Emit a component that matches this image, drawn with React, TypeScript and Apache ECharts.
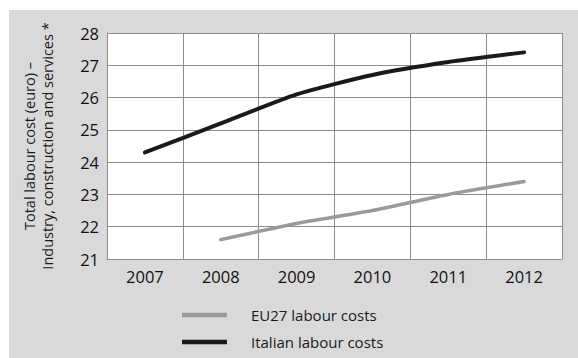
import React, { useEffect, useRef } from "react";
import * as echarts from "echarts";

const years = ["2007", "2008", "2009", "2010", "2011", "2012"];
const italianCosts = [24.3, 25.2, 26.1, 26.7, 27.1, 27.4];
const eu27Costs = [null, 21.6, 22.1, 22.5, 23.0, 23.4];
const seriesNames = ["EU27 labour costs", "Italian labour costs"];
const yAxisTitle = "Total labour cost (euro) –\nIndustry, construction and services *";

const FONT = "'Open Sans', 'Noto Sans', sans-serif";

export default function App() {
  const ref = useRef<HTMLDivElement>(null);

  useEffect(() => {
    if (!ref.current) return;
    const chart = echarts.init(ref.current, null, { renderer: "svg" });
    chart.setOption({
      animation: false,
      backgroundColor: "#ffffff",
      textStyle: { fontFamily: FONT },
      graphic: [
        {
          type: "rect",
          z: -10,
          shape: { x: 9, y: 10, width: 569, height: 348 },
          style: { fill: "#d9d9d9" },
          silent: true,
        },
      ],
      grid: { left: 107, top: 33, width: 455, height: 226, backgroundColor: "#ffffff", show: true, borderWidth: 0 },
      legend: {
        orient: "vertical",
        left: 182,
        top: 305,
        padding: 0,
        itemWidth: 45,
        itemHeight: 4.5,
        itemGap: 7,
        icon: "rect",
        textStyle: { fontFamily: FONT, fontSize: 15, color: "#1a1a1a", padding: [0, 0, 0, 19], lineHeight: 20 },
        data: seriesNames,
      },
      xAxis: {
        type: "category",
        data: years,
        boundaryGap: true,
        axisLine: { show: true, lineStyle: { color: "#8c8c8c", width: 1 } },
        axisTick: { show: false },
        axisLabel: { fontFamily: FONT, fontSize: 16.5, color: "#111111", margin: 9 },
        splitLine: { show: true, lineStyle: { color: "#8c8c8c", width: 1 } },
      },
      yAxis: {
        type: "value",
        min: 21,
        max: 28,
        interval: 1,
        name: yAxisTitle,
        nameLocation: "middle",
        nameRotate: 90,
        nameGap: 51,
        nameTextStyle: { fontFamily: FONT, fontSize: 14.5, color: "#1a1a1a", lineHeight: 18 },
        axisLine: { show: true, lineStyle: { color: "#8c8c8c", width: 1 } },
        axisTick: { show: false },
        axisLabel: { fontFamily: FONT, fontSize: 16.5, color: "#111111", margin: 8 },
        splitLine: { show: true, lineStyle: { color: "#8c8c8c", width: 1 } },
      },
      series: [
        {
          name: seriesNames[0],
          type: "line",
          data: eu27Costs,
          smooth: 0.2,
          showSymbol: false,
          symbol: "none",
          lineStyle: { color: "#9a9a9a", width: 3.5, cap: "round" },
          itemStyle: { color: "#9a9a9a" },
        },
        {
          name: seriesNames[1],
          type: "line",
          data: italianCosts,
          smooth: 0.2,
          showSymbol: false,
          symbol: "none",
          lineStyle: { color: "#1a1a1a", width: 4, cap: "round" },
          itemStyle: { color: "#1a1a1a" },
        },
      ],
    });
    return () => chart.dispose();
  }, []);

  return (
    <div
      ref={ref}
      style={{ position: "absolute", left: 0, top: 0, width: 578, height: 358 }}
    />
  );
}
